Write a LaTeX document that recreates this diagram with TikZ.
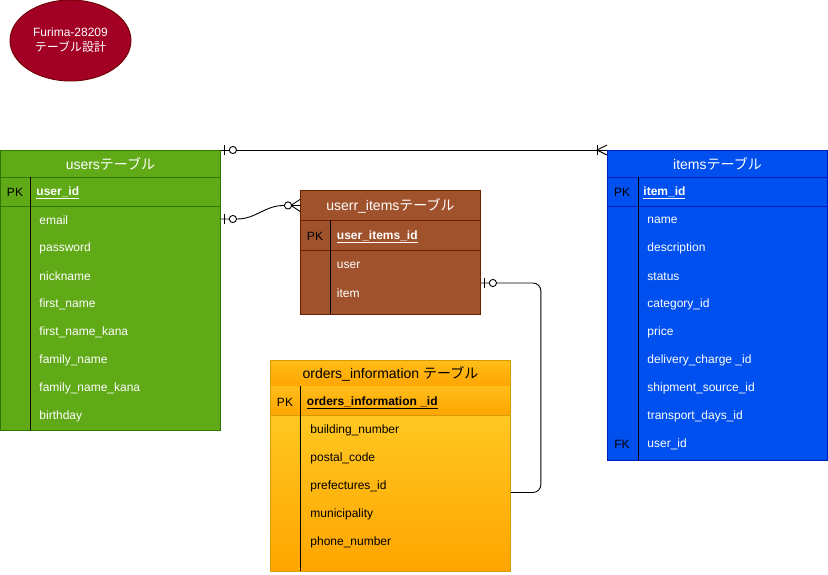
\documentclass[tikz,border=0pt]{standalone}
\usepackage{fontspec}
\setmainfont{Liberation Sans}
\newfontfamily\jpfont{Noto Sans CJK JP}
\newcommand{\jp}[1]{{\jpfont #1}}
\usetikzlibrary{positioning, shapes.geometric, calc}

\definecolor{titlered}{HTML}{A20025}
\definecolor{titleline}{HTML}{6F0000}
\definecolor{usersgreen}{HTML}{60A917}
\definecolor{usersline}{HTML}{2D7600}
\definecolor{itemsblue}{HTML}{0050EF}
\definecolor{itemsline}{HTML}{001DBC}
\definecolor{uibrown}{HTML}{A0522D}
\definecolor{uiline}{HTML}{6D1F00}
\definecolor{orderstop}{HTML}{FFCD28}
\definecolor{ordersbot}{HTML}{FFA500}
\definecolor{ordersline}{HTML}{D79B00}

\tikzset{
  tablebox/.style={draw, rectangle, anchor=north west, inner sep=0pt},
  headbox/.style={draw, rectangle, anchor=north west, inner sep=0pt, font=\fontsize{14}{16}\selectfont},
  field/.style={anchor=west, inner sep=0pt, yshift=-1.5pt, font=\fontsize{12}{14}\selectfont},
  keyfield/.style={field, font=\fontsize{12}{14}\selectfont\bfseries},
  keymark/.style={anchor=center, inner sep=0pt, yshift=-1.5pt, font=\fontsize{12}{14}\selectfont, text=black},
  zeroone/.pic={
    \draw (4,-5) -- (4,5);
    \draw[fill=white] (12,0) circle[radius=3.6pt];
  },
  zeromany/.pic={
    \draw (0,-6) -- (9,0) -- (0,6);
    \draw[fill=white] (12,0) circle[radius=3.6pt];
  },
  onemany/.pic={
    \draw (0,-5) -- (10,0) -- (0,5);
    \draw (10,-5) -- (10,5);
  }
}

\begin{document}
\begin{tikzpicture}[x=1pt, y=-1pt, line width=0.9pt]
  \useasboundingbox (0,0) rectangle (828,574);

  % title
  \node[ellipse, draw=titleline, fill=titlered, text=white, minimum width=121pt, minimum height=81pt,
    inner sep=0pt, align=center, font=\fontsize{12}{15}\selectfont] (title) at (70.5,40.5)
    {Furima-28209\\\jp{テーブル設計}};

  % users table
  \node[tablebox, fill=usersgreen, draw=usersline, minimum width=220pt, minimum height=280pt] (users) at (0,150) {};
  \node[headbox, fill=usersgreen, draw=usersline, minimum width=220pt, minimum height=27pt, text=white] (users-head) at (0,150) {users\jp{テーブル}};
  \draw[usersline] (0,206) -- (220,206);
  \draw (30,177) -- (30,430);
  \node[keymark] (users-pk) at (15,191) {PK};
  \node[keyfield, text=white] (users-id) at (36,191) {\underline{user\_id}};
  \foreach \f [count=\i] in {email, password, nickname, first\_name, first\_name\_kana, family\_name, family\_name\_kana, birthday}
    \node[field, text=white] (users-\i) at (39,191+28*\i) {\f};

  % items table
  \node[tablebox, fill=itemsblue, draw=itemsline, minimum width=220pt, minimum height=310pt] (items) at (607,150) {};
  \node[headbox, fill=itemsblue, draw=itemsline, minimum width=220pt, minimum height=27pt, text=white] (items-head) at (607,150) {items\jp{テーブル}};
  \draw[itemsline] (607,206) -- (827,206);
  \draw (638,177) -- (638,460);
  \node[keymark] (items-pk) at (622,191) {PK};
  \node[keyfield, text=white] (items-id) at (643,191) {\underline{item\_id}};
  \foreach \f [count=\i] in {name, description, status, category\_id, price, delivery\_charge \_id, shipment\_source\_id, transport\_days\_id, user\_id}
    \node[field, text=white] (items-\i) at (647,191+28*\i) {\f};
  \node[keymark] (items-fk) at (622,443) {FK};

  % userr_items table
  \node[tablebox, fill=uibrown, draw=uiline, minimum width=180pt, minimum height=124pt] (ui) at (300,190) {};
  \node[headbox, fill=uibrown, draw=uiline, minimum width=180pt, minimum height=30pt, text=white] (ui-head) at (300,190) {userr\_items\jp{テーブル}};
  \draw[uiline] (300,250) -- (480,250);
  \draw (330,220) -- (330,314);
  \node[keymark] (ui-pk) at (315,235) {PK};
  \node[keyfield, text=white] (ui-id) at (336.5,235) {\underline{user\_items\_id}};
  \node[field, text=white] (ui-1) at (336.5,264) {user};
  \node[field, text=white] (ui-2) at (336.5,292) {item};

  % orders_information table
  \node[tablebox, top color=orderstop, bottom color=ordersbot, draw=ordersline, minimum width=240pt, minimum height=185pt] (orders) at (270,386) {};
  \node[headbox, top color=orderstop!60!ordersbot, bottom color=ordersbot, draw=ordersline, minimum width=240pt, minimum height=26pt] (orders-head) at (270,360) {orders\_information \jp{テーブル}};
  \node[tablebox, top color=orderstop!60!ordersbot, bottom color=ordersbot, draw=none, minimum width=239pt, minimum height=29pt] (orders-key) at (270.5,386) {};
  \draw[ordersline] (270,415) -- (510,415);
  \draw (300,386) -- (300,571);
  \node[keymark] (orders-pk) at (285,401) {PK};
  \node[keyfield] (orders-id) at (306.5,401) {\underline{orders\_information \_id}};
  \foreach \f [count=\i] in {building\_number, postal\_code, prefectures\_id, municipality, phone\_number}
    \node[field] (orders-\i) at (310,401+28*\i) {\f};

  % relations
  \coordinate (users-link) at ($(users.east |- users-1)+(0,-1.5)$);
  \coordinate (ui-link) at ($(ui.east |- ui-2)+(0,-10.5)$);
  \coordinate (orders-link) at ($(orders.east |- orders-3)+(0,6)$);
  \draw (users.north east) -- (items.north west);
  \draw (users-link) -- ++(16,0) to[out=0, in=180] ($(ui-head.west)+(-16,0)$) -- (ui-head.west);
  \draw[rounded corners=8pt] (ui-link) -- ++(60,0) |- (orders-link);
  \pic at (users.north east) {zeroone};
  \pic[xscale=-1] at (items.north west) {onemany};
  \pic at (users-link) {zeroone};
  \pic[xscale=-1] at (ui-head.west) {zeromany};
  \pic at (ui-link) {zeroone};
\end{tikzpicture}
\end{document}
